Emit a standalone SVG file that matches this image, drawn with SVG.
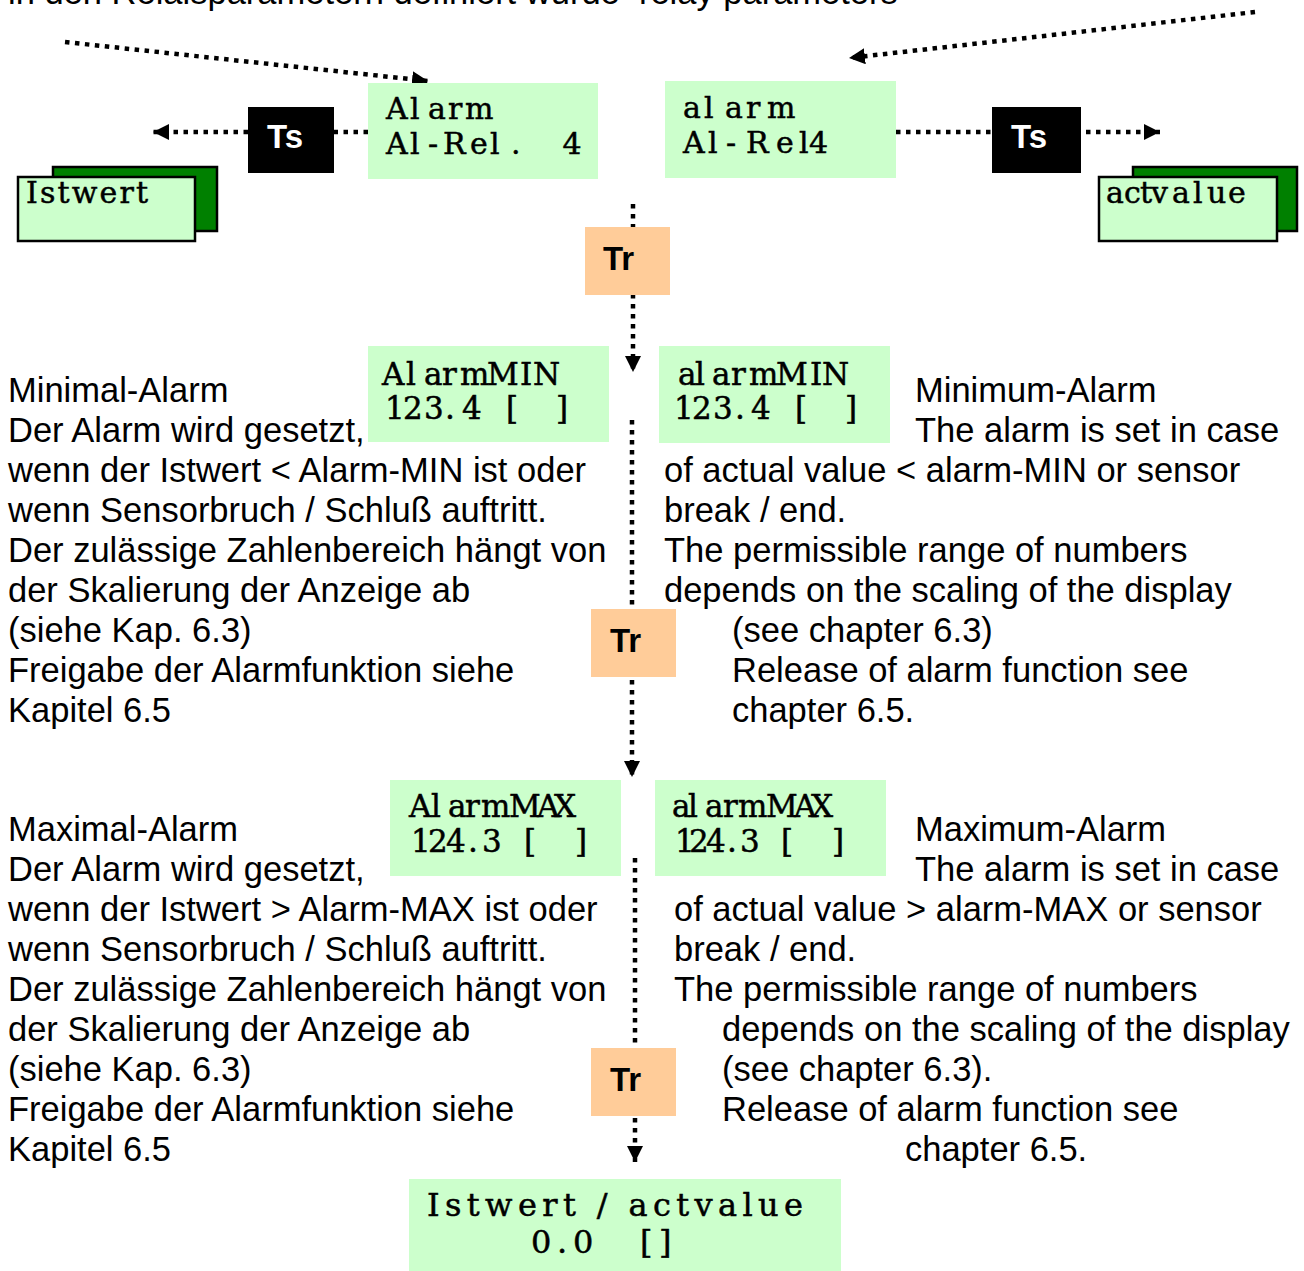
<svg xmlns="http://www.w3.org/2000/svg" width="1304" height="1271" viewBox="0 0 1304 1271">
  <style>
    .body{font-family:"Liberation Sans",Arial,sans-serif;font-size:34.5px;fill:#000}
    .lcd{font-family:"DejaVu Serif","Liberation Serif",serif;font-size:30px;fill:#000;stroke:#000;stroke-width:0.5}
    .big{font-size:31px}
    .huge{font-size:32px}
    .lbl{font-family:"Liberation Sans",Arial,sans-serif;font-weight:bold;font-size:33px}
    .disp{fill:#CCFFCC}
    .tr{fill:#FFCC99}
    .ts{fill:#000}
    .card{stroke:#000;stroke-width:2.5}
    .dot{stroke:#000;stroke-width:4.5;stroke-dasharray:4.5 5.5;fill:none;marker-end:url(#arr)}
  </style>
  <defs>
    <marker id="arr" markerUnits="userSpaceOnUse" markerWidth="18" markerHeight="16" refX="16" refY="8" orient="auto">
      <path d="M0,0 L16,8 L0,16 z" fill="#000"/>
    </marker>
  </defs>
  <rect width="1304" height="1271" fill="#fff"/>

  <!-- heading line, mostly above the visible area -->
  <text class="body" x="8" y="4" xml:space="preserve">in den Relaisparametern definiert wurde  relay parameters</text>

  <!-- connectors -->
  <g id="connectors">
    <path class="dot" d="M65,42 L428,81"/>
    <path class="dot" d="M1255,12 L849,58"/>
    <path class="dot" d="M368,132 L153,132"/>
    <path class="dot" d="M896,132 L1160,132"/>
    <path class="dot" d="M633,204 L633,372"/>
    <path class="dot" d="M632,420 L632,777"/>
    <path class="dot" d="M635,858 L635,1162"/>
  </g>

  <!-- relay display, German -->
  <g id="relay-de">
    <rect class="disp" x="368" y="83" width="230" height="96"/>
    <text class="lcd" x="386 410 428 448 465" y="119">Alarm</text>
    <text class="lcd" x="386 410 428 443 470 490 511 553" y="154">Al-Rel. 4</text>
  </g>

  <!-- relay display, English -->
  <g id="relay-en">
    <rect class="disp" x="665" y="81" width="231" height="97"/>
    <text class="lcd" x="683 704 725 746 767" y="118">alarm</text>
    <text class="lcd" x="683 708 726 746 776 799 809" y="153">Al-Rel4</text>
  </g>

  <g id="ts-left">
    <rect class="ts" x="248" y="107" width="86" height="66"/>
    <text class="lbl" x="267" y="148" font-size="32" fill="#fff">Ts</text>
  </g>

  <g id="ts-right">
    <rect class="ts" x="992" y="107" width="89" height="66"/>
    <text class="lbl" x="1011" y="148" font-size="32" fill="#fff">Ts</text>
  </g>

  <g id="istwert-card">
    <rect class="card" x="53" y="167" width="164" height="64" fill="#008000"/>
    <rect class="card disp" x="18" y="177" width="177" height="64"/>
    <text class="lcd" x="26" y="203" textLength="122" lengthAdjust="spacing">Istwert</text>
  </g>

  <g id="actvalue-card">
    <rect class="card" x="1133" y="167" width="164" height="64" fill="#008000"/>
    <rect class="card disp" x="1099" y="177" width="178" height="64"/>
    <text class="lcd" x="1106 1124 1140 1151 1172 1193 1207 1228" y="203">actvalue</text>
  </g>

  <g id="tr-1">
    <rect class="tr" x="585" y="227" width="85" height="68"/>
    <text class="lbl" x="603" y="270">Tr</text>
  </g>

  <g id="alarm-min-de">
    <rect class="disp" x="368" y="346" width="241" height="96"/>
    <text class="lcd big" x="382 406 424 442 460 487 520 533" y="385">AlarmMIN</text>
    <text class="lcd big" x="385 403 424 445 462 490 506 530 556" y="419">123.4 [ ]</text>
  </g>

  <g id="alarm-min-en">
    <rect class="disp" x="659" y="346" width="231" height="97"/>
    <text class="lcd big" x="678 695 712 731 749 776 810 822" y="385">alarmMIN</text>
    <text class="lcd big" x="674 692 713 735 751 780 795 820 845" y="419">123.4 [ ]</text>
  </g>

  <g id="tr-2">
    <rect class="tr" x="591" y="609" width="85" height="68"/>
    <text class="lbl" x="610" y="652">Tr</text>
  </g>

  <g id="alarm-max-de">
    <rect class="disp" x="390" y="780" width="231" height="96"/>
    <text class="lcd big" x="409 431 448 465 481 509 537 554" y="817">AlarmMAX</text>
    <text class="lcd big" x="411 428 446 468 482 505 524 550 575" y="852">124.3 [ ]</text>
  </g>

  <g id="alarm-max-en">
    <rect class="disp" x="655" y="780" width="231" height="96"/>
    <text class="lcd big" x="672 688 705 723 738 766 794 811" y="817">alarmMAX</text>
    <text class="lcd big" x="675 689 706 727 740 765 781 810 832" y="852">124.3 [ ]</text>
  </g>

  <g id="tr-3">
    <rect class="tr" x="591" y="1048" width="85" height="68"/>
    <text class="lbl" x="610" y="1091">Tr</text>
  </g>

  <g id="actual-value">
    <rect class="disp" x="409" y="1179" width="432" height="92"/>
    <text class="lcd huge" x="427" y="1216" textLength="376" lengthAdjust="spacing">Istwert / actvalue</text>
    <text class="lcd huge" x="531 557 573 610 640 659" y="1253">0.0 []</text>
  </g>

  <!-- description, minimum alarm -->
  <g id="text-min-de">
    <text class="body" x="8" y="402">Minimal-Alarm</text>
    <text class="body" x="8" y="442">Der Alarm wird gesetzt,</text>
    <text class="body" x="8" y="482">wenn der Istwert &lt; Alarm-MIN ist oder</text>
    <text class="body" x="8" y="522">wenn Sensorbruch / Schluß auftritt.</text>
    <text class="body" x="8" y="562">Der zulässige Zahlenbereich hängt von</text>
    <text class="body" x="8" y="602">der Skalierung der Anzeige ab</text>
    <text class="body" x="8" y="642">(siehe Kap. 6.3)</text>
    <text class="body" x="8" y="682">Freigabe der Alarmfunktion siehe</text>
    <text class="body" x="8" y="722">Kapitel 6.5</text>
  </g>
  <g id="text-min-en">
    <text class="body" x="915" y="402">Minimum-Alarm</text>
    <text class="body" x="915" y="442">The alarm is set in case</text>
    <text class="body" x="664" y="482">of actual value &lt; alarm-MIN or sensor</text>
    <text class="body" x="664" y="522">break / end.</text>
    <text class="body" x="664" y="562">The permissible range of numbers</text>
    <text class="body" x="664" y="602">depends on the scaling of the display</text>
    <text class="body" x="732" y="642">(see chapter 6.3)</text>
    <text class="body" x="732" y="682">Release of alarm function see</text>
    <text class="body" x="732" y="722">chapter 6.5.</text>
  </g>

  <!-- description, maximum alarm -->
  <g id="text-max-de">
    <text class="body" x="8" y="841">Maximal-Alarm</text>
    <text class="body" x="8" y="881">Der Alarm wird gesetzt,</text>
    <text class="body" x="8" y="921">wenn der Istwert &gt; Alarm-MAX ist oder</text>
    <text class="body" x="8" y="961">wenn Sensorbruch / Schluß auftritt.</text>
    <text class="body" x="8" y="1001">Der zulässige Zahlenbereich hängt von</text>
    <text class="body" x="8" y="1041">der Skalierung der Anzeige ab</text>
    <text class="body" x="8" y="1081">(siehe Kap. 6.3)</text>
    <text class="body" x="8" y="1121">Freigabe der Alarmfunktion siehe</text>
    <text class="body" x="8" y="1161">Kapitel 6.5</text>
  </g>
  <g id="text-max-en">
    <text class="body" x="915" y="841">Maximum-Alarm</text>
    <text class="body" x="915" y="881">The alarm is set in case</text>
    <text class="body" x="674" y="921">of actual value &gt; alarm-MAX or sensor</text>
    <text class="body" x="674" y="961">break / end.</text>
    <text class="body" x="674" y="1001">The permissible range of numbers</text>
    <text class="body" x="722" y="1041">depends on the scaling of the display</text>
    <text class="body" x="722" y="1081">(see chapter 6.3).</text>
    <text class="body" x="722" y="1121">Release of alarm function see</text>
    <text class="body" x="905" y="1161">chapter 6.5.</text>
  </g>
</svg>
